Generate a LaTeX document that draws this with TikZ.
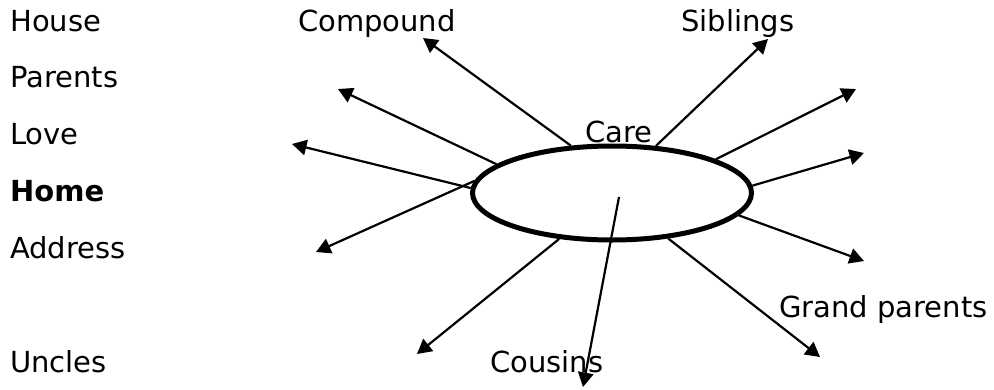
\documentclass[tikz,border=0pt]{standalone}
\usepackage{fontspec}
\setmainfont{DejaVu Sans}
\usepackage{tikz}
\usetikzlibrary{shapes.geometric, arrows.meta, positioning}

\begin{document}
\begin{tikzpicture}[
    x=1pt, y=-1pt,
    word/.style={anchor=base west, inner sep=0pt, font=\fontsize{29}{34}\selectfont},
    hubshape/.style={draw, ellipse, line width=5pt, minimum width=279pt, minimum height=94pt, inner sep=0pt},
    arrow/.style={-{Triangle[length=14.5pt, width=15.5pt]}, line width=2.2pt}
]
    \useasboundingbox (0,0) rectangle (994,389);

    % words
    \node[word] (house) at (10,31) {House};
    \node[word] (parents) at (10,87) {Parents};
    \node[word] (love) at (10,144) {Love};
    \node[word, font=\fontsize{29}{34}\selectfont\bfseries] (home) at (10,201) {Home};
    \node[word] (address) at (10,258) {Address};
    \node[word] (uncles) at (10,372) {Uncles};
    \node[word] (compound) at (298,31) {Compound};
    \node[word] (siblings) at (681,31) {Siblings};
    \node[word] (care) at (585,142) {Care};
    \node[word] (grand) at (779,317) {Grand parents};
    \node[word] (cousins) at (490,372) {Cousins};

    % centre
    \node[hubshape] (hub) at (612,193) {};
    \coordinate (inner) at (619,197);

    % arrow tips
    \coordinate (tcompound) at (423,38);
    \coordinate (tparents) at (338,89);
    \coordinate (tlove) at (292,144);
    \coordinate (taddress) at (316,252);
    \coordinate (tuncles) at (417,354);
    \coordinate (tcousins) at (583,387);
    \coordinate (tgrand) at (820,357);
    \coordinate (tlowright) at (864,261);
    \coordinate (tright) at (864,153);
    \coordinate (tupright) at (856,89);
    \coordinate (tsiblings) at (768,39);

    \draw[arrow] (hub.131) -- (tcompound);
    \draw[arrow] (hub.166) -- (tparents);
    \draw[arrow] (hub.178) -- (tlove);
    \draw[arrow] (hub.175) -- (taddress);
    \draw[arrow] (hub.221) -- (tuncles);
    \draw[arrow] (inner) -- (tcousins);
    \draw[arrow] (hub.321) -- (tgrand);
    \draw[arrow] (hub.350) -- (tlowright);
    \draw[arrow] (hub.3) -- (tright);
    \draw[arrow] (hub.18) -- (tupright);
    \draw[arrow] (hub.47) -- (tsiblings);
\end{tikzpicture}
\end{document}
